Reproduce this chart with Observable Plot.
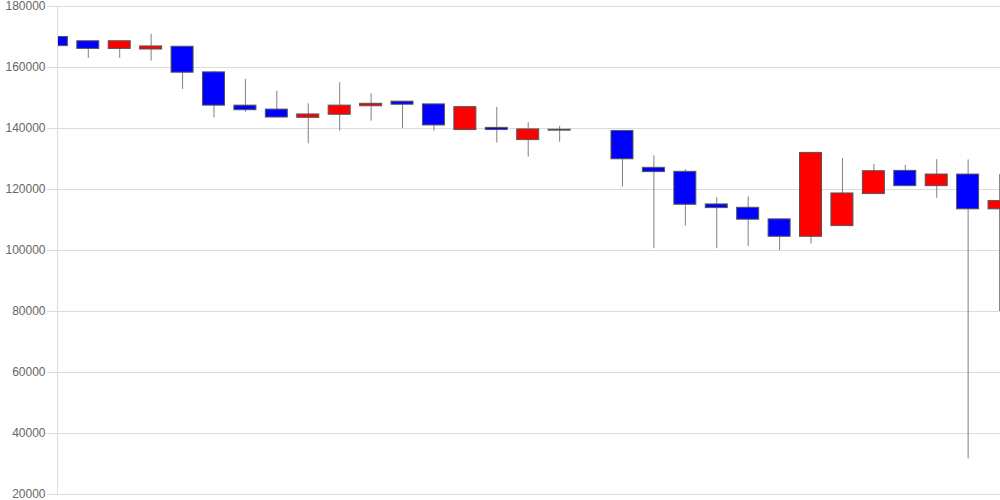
<!DOCTYPE html>
<html>
<head>
<meta charset="utf-8">
<script src="https://cdn.jsdelivr.net/npm/d3@7"></script>
<script src="https://cdn.jsdelivr.net/npm/@observablehq/plot@0.6"></script>
<style>
  html, body { margin: 0; padding: 0; background: #fff; }
  #chart { width: 1000px; height: 500px; }
</style>
</head>
<body>
<div id="chart"></div>
<script>
// Candle slots (index 17 has no data)
const slots = d3.range(31);
const openV  = [170000,168600,166100,165900,166800,158400,147500,146200,143500,144500,147300,148800,147900,139500,140200,136200,139600,null,139200,127100,125800,115100,114000,110200,104500,108000,118500,126100,121100,124900,113500];
const highV  = [170000,168600,168600,170900,166800,158700,156100,152200,148100,155000,151400,148800,147900,147000,146900,141900,140700,null,139200,131000,126500,117300,117600,110200,132000,130100,128200,127900,129800,129700,124900];
const lowV   = [164000,163000,163000,162100,152800,143500,145300,143600,135000,139100,142400,140000,139100,139500,135200,130600,135500,null,120800,100600,108000,100600,101300,100000,102100,108000,118500,121000,117100,31700,80000];
const closeV = [167000,166100,168600,166900,158300,147500,146000,143600,144600,147500,148100,147800,141000,147000,139500,139700,139300,null,129900,125700,115000,113900,110100,104500,132000,118700,126000,121100,124900,113500,116200];
const yTicks = [20000,40000,60000,80000,100000,120000,140000,160000,180000];

const data = slots.map((i) => ({
  i, open: openV[i], high: highV[i], low: lowV[i], close: closeV[i]
})).filter(d => d.open != null);

const chart = Plot.plot({
  width: 1000,
  height: 500,
  marginLeft: 57,
  marginRight: 0,
  marginTop: 6,
  marginBottom: 6,
  style: { fontFamily: "'Liberation Sans', Arial, sans-serif", fontSize: "12px", background: "#fff" },
  x: { type: "linear", domain: [0.02, 30.03], axis: null },
  y: { domain: [20000, 180000], ticks: yTicks },
  marks: [
    Plot.gridY(yTicks, { stroke: "#dcdcdc", strokeOpacity: 1 }),
    Plot.axisY(yTicks, {
      tickSize: 10, tickPadding: 2, stroke: "#dcdcdc", fill: "#666",
      tickFormat: d3.format("d"), fontSize: 12
    }),
    Plot.ruleX(data, { x: "i", y1: "low", y2: "high", stroke: "#808080", strokeWidth: 1, clip: true }),
    Plot.rect(data, {
      x1: d => d.i - 0.35, x2: d => d.i + 0.35,
      y1: "open", y2: "close",
      fill: d => d.close >= d.open ? "#ff0000" : "#0000ff",
      stroke: "#555", strokeWidth: 1, clip: true
    }),
    Plot.frame({ anchor: "left", stroke: "#dcdcdc" })
  ]
});
document.getElementById("chart").appendChild(chart);
</script>
</body>
</html>
